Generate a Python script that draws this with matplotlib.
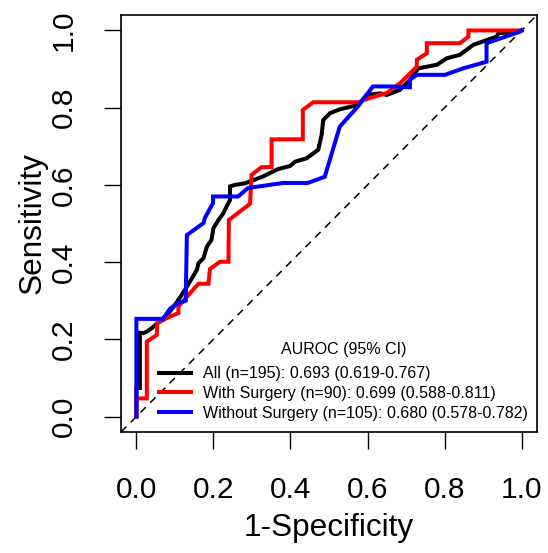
import matplotlib
matplotlib.use('Agg')
import matplotlib.pyplot as plt
import numpy as np

plt.rcParams['font.family'] = ['Liberation Sans', 'DejaVu Sans']

#  ROC curve points (1-specificity, sensitivity)
all_fpr = [0.0, 0.0, 0.009, 0.009, 0.018, 0.027, 0.040, 0.070, 0.087, 0.100, 0.126, 0.144,
           0.157, 0.161, 0.174, 0.183, 0.195, 0.200, 0.213, 0.226, 0.234, 0.243, 0.243,
           0.256, 0.282, 0.295, 0.329, 0.368, 0.399, 0.412, 0.442, 0.472, 0.481, 0.485,
           0.503, 0.529, 0.576, 0.598, 0.633, 0.650, 0.684, 0.710, 0.732, 0.780, 0.806,
           0.840, 0.875, 0.935, 0.940, 0.987, 1.0]
all_tpr = [0.0, 0.074, 0.074, 0.217, 0.216, 0.220, 0.229, 0.255, 0.272, 0.289, 0.328, 0.358,
           0.380, 0.397, 0.410, 0.440, 0.458, 0.488, 0.509, 0.527, 0.544, 0.561, 0.596,
           0.600, 0.604, 0.609, 0.622, 0.641, 0.649, 0.660, 0.669, 0.691, 0.730, 0.768,
           0.786, 0.796, 0.807, 0.833, 0.837, 0.833, 0.846, 0.872, 0.902, 0.911, 0.928,
           0.937, 0.963, 0.984, 0.993, 0.996, 1.0]

surg_fpr = [0.0, 0.0, 0.027, 0.027, 0.053, 0.054, 0.087, 0.109, 0.109, 0.161, 0.187, 0.191,
            0.217, 0.239, 0.240, 0.295, 0.299, 0.325, 0.351, 0.351, 0.432, 0.432, 0.459,
            0.576, 0.606, 0.650, 0.684, 0.728, 0.728, 0.754, 0.754, 0.840, 0.862, 0.862, 1.0]
surg_tpr = [0.0, 0.047, 0.047, 0.194, 0.211, 0.242, 0.259, 0.268, 0.285, 0.344, 0.344, 0.382,
            0.401, 0.401, 0.509, 0.551, 0.626, 0.646, 0.646, 0.718, 0.718, 0.794, 0.814,
            0.814, 0.825, 0.838, 0.863, 0.906, 0.924, 0.941, 0.967, 0.967, 0.984, 1.0, 1.0]

nosurg_fpr = [0.0, 0.0, 0.069, 0.087, 0.108, 0.128, 0.131, 0.174, 0.178, 0.199, 0.199, 0.264,
              0.290, 0.381, 0.445, 0.489, 0.528, 0.575, 0.601, 0.614, 0.658, 0.710, 0.710,
              0.728, 0.801, 0.849, 0.909, 0.909, 0.996, 1.0]
nosurg_tpr = [0.0, 0.253, 0.253, 0.279, 0.294, 0.300, 0.470, 0.501, 0.515, 0.553, 0.570, 0.570,
              0.592, 0.605, 0.605, 0.621, 0.751, 0.803, 0.838, 0.855, 0.855, 0.853, 0.872,
              0.885, 0.885, 0.902, 0.919, 0.967, 0.997, 1.0]

labels = ['All (n=195): 0.693 (0.619-0.767)',
          'With Surgery (n=90): 0.699 (0.588-0.811)',
          'Without Surgery (n=105): 0.680 (0.578-0.782)']
colors = ['black', 'red', 'blue']
ticks = [0.0, 0.2, 0.4, 0.6, 0.8, 1.0]


def main():
    fig = plt.figure(figsize=(5.48, 5.53), dpi=100)
    ax = fig.add_axes([121 / 548, 1 - 432 / 553, 416 / 548, 417 / 553])

    #  chance line across the whole box, like abline(0, 1)
    ax.axline((0, 0), slope=1, color='black', lw=1.1, ls=(0, (5, 4)))

    curves = [(all_fpr, all_tpr), (surg_fpr, surg_tpr), (nosurg_fpr, nosurg_tpr)]
    for (x, y), c, lab in zip(curves, colors, labels):
        ax.plot(x, y, color=c, lw=2.9, label=lab, solid_joinstyle='miter')

    ax.set_xlim(-0.04, 1.04)
    ax.set_ylim(-0.04, 1.04)
    ax.set_xticks(ticks)
    ax.set_yticks(ticks)
    ax.set_xticklabels(['%.1f' % t for t in ticks])
    ax.set_yticklabels(['%.1f' % t for t in ticks], rotation=90, va='center')
    ax.tick_params(axis='both', labelsize=21.5, length=12, width=1.0, direction='out')
    ax.tick_params(axis='x', pad=19.5)
    ax.tick_params(axis='y', pad=19)
    for s in ax.spines.values():
        s.set_linewidth(1.2)

    ax.set_xlabel('1-Specificity', fontsize=22.7, labelpad=7)
    ax.set_ylabel('Sensitivity', fontsize=22.7, labelpad=2)

    leg = ax.legend(loc='center', bbox_to_anchor=(343.5 / 548, 1 - 381.5 / 553),
                    bbox_transform=fig.transFigure, frameon=False, fontsize=11.5,
                    title='AUROC (95% CI)', title_fontsize=11.5, handlelength=2.0,
                    handletextpad=0.75, labelspacing=0.3, borderpad=0.0)
    #  a bit more room between the title and the entries
    leg._legend_box.sep = 6.5

    fig.savefig('out.png', dpi=100)


if __name__ == '__main__':
    main()
